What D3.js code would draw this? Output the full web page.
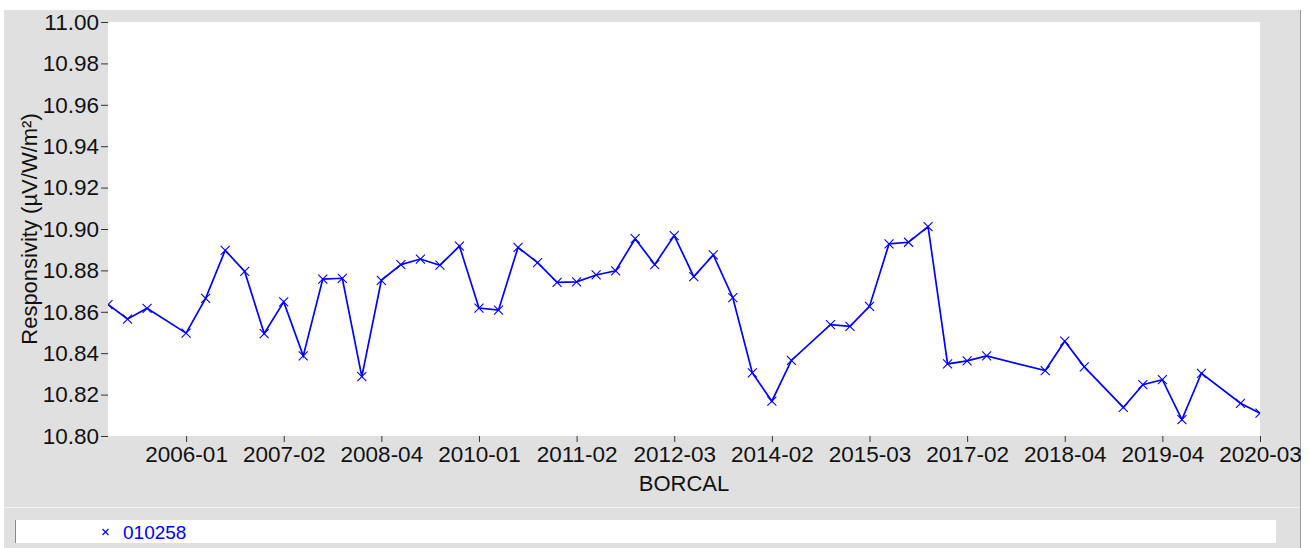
<!DOCTYPE html>
<html>
<head>
<meta charset="utf-8">
<script src="https://cdn.jsdelivr.net/npm/d3@7"></script>
<style>
  body { margin: 0; background: #fff; }
  text { font-family: "Liberation Sans", Arial, sans-serif; }
</style>
</head>
<body>
<script>
// calibration number (gaps = skipped calibrations) and responsivity
var calNo = [0, 1, 2, 4, 5, 6, 7, 8, 9, 10, 11, 12, 13, 14, 15, 16, 17, 18, 19, 20,
             21, 22, 23, 24, 25, 26, 27, 28, 29, 30, 31, 32, 33, 34, 35, 37, 38, 39, 40, 41,
             42, 43, 44, 45, 48, 49, 50, 52, 53, 54, 55, 56, 58, 59];
var resp = [10.8635, 10.8565, 10.8617, 10.8497, 10.8665, 10.8897, 10.8795, 10.8495, 10.8648, 10.8387,
            10.8758, 10.8762, 10.8287, 10.8752, 10.8828, 10.8855, 10.8825, 10.8917, 10.8618, 10.8608,
            10.8911, 10.8838, 10.8742, 10.8745, 10.8778, 10.8798, 10.8953, 10.8828, 10.8968, 10.8770,
            10.8875, 10.8668, 10.8305, 10.8168, 10.8365, 10.8538, 10.8530, 10.8626, 10.8928, 10.8936,
            10.9012, 10.8348, 10.8363, 10.8387, 10.8316, 10.8458, 10.8334, 10.8138, 10.8248, 10.8272,
            10.8079, 10.8303, 10.8158, 10.8110];

var tickCal = [4, 9, 14, 19, 24, 29, 34, 39, 44, 49, 54, 59];
var tickLabels = ["2006-01", "2007-02", "2008-04", "2010-01", "2011-02", "2012-03",
                  "2014-02", "2015-03", "2017-02", "2018-04", "2019-04", "2020-03"];
var yTicks = [10.80, 10.82, 10.84, 10.86, 10.88, 10.90, 10.92, 10.94, 10.96, 10.98, 11.00];

var seriesName = "010258";

var W = 1310, H = 548;
var plot = {left: 108, right: 1260, top: 22, bottom: 436};

var svg = d3.select("body").append("svg")
    .attr("width", W).attr("height", H);

// panel backgrounds
svg.append("rect").attr("x", 4).attr("y", 10).attr("width", 1296).attr("height", H - 10)
    .attr("fill", "#e0e0e0");
svg.append("line").attr("x1", 1300.5).attr("x2", 1300.5).attr("y1", 10).attr("y2", H)
    .attr("stroke", "#9a9a9a");
svg.append("line").attr("x1", 4).attr("x2", 1300).attr("y1", 507.5).attr("y2", 507.5)
    .attr("stroke", "#f2f2f2");
svg.append("rect").attr("x", plot.left).attr("y", plot.top)
    .attr("width", plot.right - plot.left).attr("height", plot.bottom - plot.top)
    .attr("fill", "#fff");

var x = d3.scaleLinear().domain([0, 59]).range([plot.left, plot.right]);
var y = d3.scaleLinear().domain([10.80, 11.00]).range([plot.bottom, plot.top]);

// y axis
var yAxis = svg.append("g")
    .attr("transform", "translate(" + plot.left + ",0)")
    .call(d3.axisLeft(y).tickValues(yTicks).tickFormat(d3.format(".2f")).tickSize(7).tickPadding(2));
yAxis.select(".domain").remove();
yAxis.selectAll(".tick line").attr("stroke", "#333");
yAxis.selectAll("text").attr("font-size", 22.5).attr("fill", "#111")
    .style("font-family", "'Liberation Sans', Arial, sans-serif");

// x axis
var xAxis = svg.append("g")
    .attr("transform", "translate(0," + plot.bottom + ")")
    .call(d3.axisBottom(x).tickValues(tickCal)
        .tickFormat(function(d, i) { return tickLabels[i]; })
        .tickSize(6).tickPadding(4));
xAxis.select(".domain").remove();
xAxis.selectAll(".tick line").attr("stroke", "#333");
xAxis.selectAll("text").attr("font-size", 22.5).attr("fill", "#111")
    .style("font-family", "'Liberation Sans', Arial, sans-serif");

// axis titles
svg.append("text")
    .attr("transform", "translate(37," + ((plot.top + plot.bottom) / 2) + ") rotate(-90)")
    .attr("text-anchor", "middle")
    .attr("font-size", 22).attr("fill", "#111")
    .text("Responsivity (\u00b5V/W/m\u00b2)");
svg.append("text")
    .attr("x", (plot.left + plot.right) / 2).attr("y", 491)
    .attr("text-anchor", "middle")
    .attr("font-size", 22).attr("fill", "#111")
    .text("BORCAL");

// series
svg.append("clipPath").attr("id", "clip").append("rect")
    .attr("x", plot.left).attr("y", plot.top)
    .attr("width", plot.right - plot.left).attr("height", plot.bottom - plot.top);

var pts = calNo.map(function(c, i) { return {c: c, v: resp[i]}; });
var g = svg.append("g").attr("clip-path", "url(#clip)");

g.append("path").datum(pts)
    .attr("fill", "none").attr("stroke", "#0000ff").attr("stroke-width", 1.7)
    .attr("d", d3.line().x(function(d) { return x(d.c); }).y(function(d) { return y(d.v); }));

g.selectAll(".mk").data(pts).enter().append("path")
    .attr("class", "mk")
    .attr("transform", function(d) { return "translate(" + x(d.c) + "," + y(d.v) + ")"; })
    .attr("d", "M-4.5,-4.5L4.5,4.5M-4.5,4.5L4.5,-4.5")
    .attr("stroke", "#0000ff").attr("stroke-width", 1.1).attr("fill", "none");

// legend
svg.append("rect").attr("x", 15).attr("y", 520).attr("width", 1261).attr("height", 23)
    .attr("fill", "#fff");
svg.append("line").attr("x1", 15.5).attr("x2", 15.5).attr("y1", 520).attr("y2", 543)
    .attr("stroke", "#888");
svg.append("path").attr("d", "M-3,-3L3,3M-3,3L3,-3")
    .attr("transform", "translate(105.5,532)")
    .attr("stroke", "#0000ff").attr("stroke-width", 1.1);
svg.append("text").attr("x", 123).attr("y", 538.5)
    .attr("font-size", 19).attr("fill", "#0000ff")
    .text(seriesName);
</script>
</body>
</html>
